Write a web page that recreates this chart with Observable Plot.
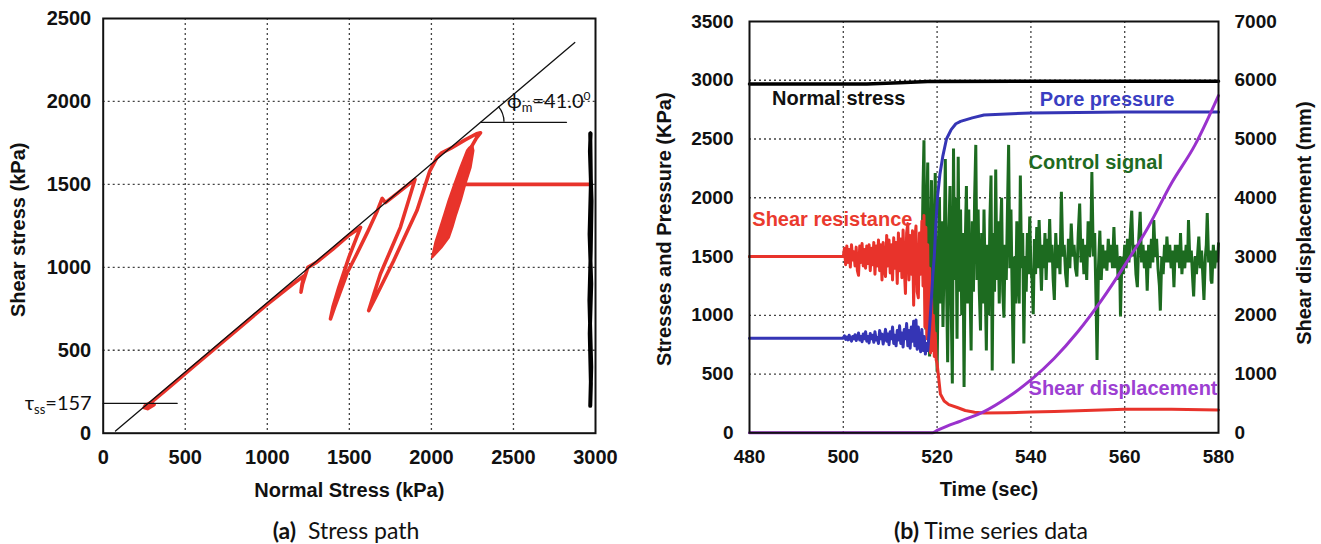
<!DOCTYPE html>
<html><head><meta charset="utf-8">
<script src="https://cdn.jsdelivr.net/npm/d3@7"></script>
<script src="https://cdn.jsdelivr.net/npm/@observablehq/plot@0.6"></script>
<style>
body{margin:0;background:#fff;}
#wrap{position:relative;width:1321px;height:544px;overflow:hidden;background:#fff;}
.panel{position:absolute;top:0;}
.cap{position:absolute;top:516px;font-family:Lato,"Open Sans",sans-serif;font-size:23px;line-height:28px;color:#111;white-space:nowrap;transform:translateX(-50%);}
</style></head><body><div id="wrap"></div>
<script>
// ---------------- Panel (a) data ----------------
const xTicksA = [0, 500, 1000, 1500, 2000, 2500, 3000];
const yTicksA = [0, 500, 1000, 1500, 2000, 2500];
const xGridA = [500, 1000, 1500, 2000, 2500];
const yGridA = [500, 1000, 1500, 2000];
// failure envelope (phi_m = 41.0)
const envelope = [[75, 13], [2874, 2355]];
const phiRef = [[2299, 1874], [2823, 1874]];
const tauSS = [[0, 180], [451, 180]];
// effective stress path (normal stress, shear stress)
const stressPath = [
  [2960,1500],[2180,1500],[2220,1650],[2248,1734],[2275,1780],[2299,1811],
  [2275,1805],[2200,1765],[2120,1718],[2060,1688],[2034,1663],
  [1990,1580],[1912,1342],[1770,1040],[1660,820],[1618,739],
  [1650,840],[1689,960],[1750,1100],[1811,1241],[1860,1400],[1900,1530],
  [1800,1452],[1720,1390],[1700,1415],
  [1670,1340],[1609,1209],[1540,1070],[1487,967],[1410,760],[1385,689],
  [1400,760],[1436,879],[1497,1060],[1568,1241],
  [1500,1195],[1400,1110],[1300,1030],[1247,1000],
  [1215,900],[1205,850],[1212,900],[1225,950],
  [1150,895],[1000,777],[850,652],[700,526],[550,401],[450,317],[380,258],[320,208],[280,175],
  [250,155],[270,148],[310,172],[290,185],[255,165]
];
// dense cyclic cluster of the effective stress path (outline)
const stressCluster = [
  [2005,1061],[2060,1120],[2105,1180],[2127,1242],[2150,1320],[2178,1403],[2205,1500],[2238,1603],[2255,1704],[2248,1734],
  [2230,1720],[2218,1704],[2178,1603],[2140,1500],[2106,1403],[2080,1320],[2055,1242],[2025,1150],[2005,1061]
];
// total stress path (normal stress nearly constant)
const totalPath = [
  [2968,1807],[2972,1500],[2964,1200],[2974,900],[2965,600],[2972,300],[2968,165],
  [2974,400],[2963,800],[2971,1100],[2976,1400],[2966,1700],[2970,1807]
];

// ---------------- Panel (b) data ----------------
const xTicksB = [480, 500, 520, 540, 560, 580];
const xGridB = [500, 520, 540, 560];
const yTicksB = [0, 500, 1000, 1500, 2000, 2500, 3000, 3500];
const yGridB = [500, 1000, 1500, 2000, 2500, 3000];
const dispTicks = [0, 1000, 2000, 3000, 4000, 5000, 6000, 7000];
const normalStress = [[480,2968],[505,2968],[512,2978],[518,2990],[580,2992]];
const shearResistance = [
  [480,1500],[500,1500],[500.25,1570],[500.5,1430],[500.75,1590],[501,1450],[501.25,1560],[501.5,1410],[501.75,1600],
  [502,1470],[502.25,1540],[502.5,1420],[502.75,1580],[503,1380],[503.25,1340],[503.5,1590],[503.75,1450],[504,1610],
  [504.25,1420],[504.5,1560],[504.75,1400],[505,1590],[505.25,1440],[505.5,1600],[505.75,1380],[506,1570],[506.25,1430],
  [506.5,1620],[506.75,1350],[507,1590],[507.25,1420],[507.5,1640],[507.75,1380],[508,1600],[508.25,1300],[508.5,1620],
  [508.75,1400],[509,1330],[509.25,1680],[509.5,1420],[509.75,1640],[510,1360],[510.25,1600],[510.5,1300],[510.75,1660],
  [511,1400],[511.25,1620],[511.5,1270],[511.75,1700],[512,1380],[512.25,1650],[512.5,1320],[512.75,1725],[513,1400],
  [513.25,1185],[513.5,1700],[513.75,1780],[514,1300],[514.25,1680],[514.5,1350],[514.75,1720],[515,1085],[515.25,1650],
  [515.5,1760],[515.75,1200],[516,1150],[516.25,1700],[516.5,1350],[516.75,1800],[517,1250],[517.2,1850],[517.4,900],
  [517.6,1750],[517.8,800],[518,1600],[518.2,750],[518.4,1400],[518.6,680],[518.8,1200],[519,700],[519.2,1000],[519.4,650],
  [519.6,850],[519.8,620],[520,590],[520.7,330],[521.5,270],[522.5,240],[524.3,215],[526,190],[528,175],[530,168],
  [535,170],[540,176],[545,182],[550,188],[555,195],[560,200],[570,200],[580,195]
];
const porePressure = [
  [480,805],[500,805],[500.25,825],[500.5,795],[500.75,815],[501,790],[501.25,830],[501.5,800],[501.75,780],[502,820],
  [502.25,800],[502.5,835],[502.75,785],[503,815],[503.25,850],[503.5,790],[503.75,820],[504,775],[504.25,840],[504.5,800],
  [504.75,860],[505,780],[505.25,820],[505.5,765],[505.75,845],[506,800],[506.25,830],[506.5,770],[506.75,860],[507,790],
  [507.25,810],[507.5,760],[507.75,870],[508,800],[508.25,840],[508.5,755],[508.75,820],[509,880],[509.25,780],[509.5,840],
  [509.75,750],[510,860],[510.25,800],[510.5,900],[510.75,760],[511,830],[511.25,740],[511.5,870],[511.75,790],[512,910],
  [512.25,760],[512.5,850],[512.75,730],[513,880],[513.25,800],[513.5,930],[513.75,740],[514,870],[514.25,720],[514.5,900],
  [514.75,780],[515,950],[515.25,740],[515.5,960],[515.75,710],[516,900],[516.25,760],[516.5,690],[516.75,880],[517,700],
  [517.25,820],[517.5,670],[517.75,760],[518,700],[518.4,900],[518.8,1150],[519.1,1350],[519.4,1500],[519.7,1750],
  [520.1,2010],[520.6,2200],[521.2,2350],[522,2500],[523,2580],[524,2630],[525,2650],[527.5,2680],[530,2705],[540,2722],
  [560,2730],[580,2730]
];
const controlSignal = [
  [480,1500],[500,1500],[502,1520],[504,1480],[506,1530],[508,1470],[510,1540],[512,1460],[514,1560],[516,1450],
  [516.8,1500],[517.0,2100],[517.2,2490],[517.4,1300],[517.6,880],[517.8,1900],[518.0,2300],[518.2,1200],[518.4,650],
  [518.6,1600],[518.8,2150],[519.0,1400],[519.2,800],[519.4,1700],[519.6,2210],[519.8,1200],[520.0,520],
  [520.25,1400],[520.5,2000],[520.75,1100],[521.0,1800],[521.25,900],[521.5,1500],[521.75,2330],[522.0,1300],[522.25,600],
  [522.5,1700],[522.75,2100],[523.0,1100],[523.25,420],[523.5,2420],[523.75,1300],[524.0,2000],[524.25,800],[524.5,2350],
  [524.75,1200],[525.0,1900],[525.25,1000],[525.5,1700],[525.75,390],[526.0,1600],[526.25,2100],[526.5,1100],[526.75,1900],
  [527.0,1300],[527.25,700],[527.5,1800],[527.75,1200],[528.0,2000],[528.25,2450],[528.5,1300],[528.75,1900],[529.0,1200],
  [529.25,870],[529.5,1700],[529.75,1100],[530.0,1900],[530.25,1300],[530.5,700],[530.75,1600],[531.0,1000],[531.25,1800],
  [531.5,2190],[531.75,530],[532.0,1700],[532.25,1200],[532.5,2240],[532.75,1300],[533.0,1800],[533.25,1100],[533.5,1700],
  [533.75,2000],[534.0,1200],[534.25,980],[534.5,1600],[534.75,1300],[535.0,1900],[535.25,2450],[535.5,1400],[535.75,1900],
  [536.0,1200],[536.25,590],[536.5,1500],[536.75,1100],[537.0,1800],[537.25,1300],[537.5,1100],[537.75,2190],[538.0,1400],
  [538.25,1700],[538.5,760],[538.75,1500],[539.0,1200],[539.25,1700],[539.5,1350],[539.75,1840],[540.0,1400],[540.25,1300],
  [540.5,1010],[540.75,1650],[541.0,1350],[541.25,1750],[541.5,1400],[541.75,1810],[542.0,1500],[542.25,1210],[542.5,1600],
  [542.75,1400],[543.0,1700],[543.25,1300],[543.5,1650],[543.75,1450],[544.0,1820],[544.25,1450],[544.5,1600],[544.75,1300],
  [545.0,1130],[545.3,1700],[545.6,1400],[545.9,1600],[546.2,1350],[546.5,2050],[546.8,1500],[547.1,1600],[547.4,1350],
  [547.7,1240],[548.0,1650],[548.3,1400],[548.6,1780],[548.9,1500],[549.2,1600],[549.5,1400],[549.8,1330],[550.1,1700],
  [550.4,1950],[550.7,1450],[551.0,1650],[551.3,1350],[551.6,1600],[551.9,1300],[552.2,1800],[552.5,1500],[552.8,1700],
  [553.0,2220],[553.3,1500],[553.6,1700],[553.9,1100],[554.1,620],[554.4,1400],[554.7,1720],[555.0,1300],[555.3,1600],
  [555.6,1400],[555.9,1550],[556.2,1380],[556.5,1650],[556.8,1450],[557.1,1600],[557.4,1400],[557.7,1750],[558.0,1400],
  [558.3,1600],[558.6,1300],[558.9,1500],[559.1,990],[559.4,1500],[559.7,1350],[560.0,1600],[560.3,1400],[560.6,1650],
  [560.9,1450],[561.2,1700],[561.5,1890],[561.8,1500],[562.1,1600],[562.4,1350],[562.7,1240],[563.0,1650],[563.3,1880],
  [563.6,1450],[563.9,1600],[564.2,1400],[564.5,1550],[564.8,1210],[565.1,1600],[565.4,1400],[565.7,1650],[566.0,1450],
  [566.2,1810],[566.5,1500],[566.8,1650],[567.1,1400],[567.4,1250],[567.6,1040],[567.9,1500],[568.2,1350],[568.5,1600],
  [568.8,1450],[569.0,1670],[569.3,1450],[569.6,1600],[569.9,1400],[570.2,1550],[570.5,1240],[570.8,1600],[571.1,1450],
  [571.4,1600],[571.7,1400],[571.9,1700],[572.2,1350],[572.5,1550],[572.8,1400],[573.1,1600],[573.4,1450],[573.6,1810],
  [573.9,1450],[574.2,1550],[574.5,1300],[574.7,1160],[575.0,1500],[575.3,1350],[575.6,1550],[575.8,1670],[576.1,1400],
  [576.4,1550],[576.7,1300],[576.9,1130],[577.2,1500],[577.4,1600],[577.6,1870],[577.9,1450],[578.2,1550],[578.4,1300],
  [578.6,1270],[578.9,1600],[579.2,1400],[579.5,1550],[579.8,1450],[580.0,1610]
];
const shearDisplacement = [
  [480,0],[519,0],[520,40],[522,110],[525,200],[530,360],[535,600],[540,900],[545,1270],[550,1720],
  [555,2250],[560,2850],[565,3500],[570,4250],[575,4900],[580,5740]
];
const seriesLabels = [
  {t: 484.8, v: 2847, label: "Normal stress", color: "#111111"},
  {t: 541.9, v: 2833, label: "Pore pressure", color: "#3a3ec2"},
  {t: 539.5, v: 2296, label: "Control signal", color: "#1f6a22"},
  {t: 480.6, v: 1816, label: "Shear resistance", color: "#ea3a2e"},
  {t: 539.5, v: 373,  label: "Shear displacement", color: "#9d3fd2"}
];

// ---------------- helpers ----------------
const P = a => a.map(([x, y]) => ({x, y}));
const dispFactor = 3500 / 7000;
const tickFont = "'Liberation Sans', Arial, sans-serif";
const gridStyle = {stroke: "#222", strokeOpacity: 0.85, strokeDasharray: "2,3", strokeWidth: 1.3};

// ---------------- Panel (a) ----------------
const plotA = Plot.plot({
  width: 620, height: 505,
  marginLeft: 102.7, marginRight: 25, marginTop: 18, marginBottom: 72.3,
  x: {domain: [0, 3000]},
  y: {domain: [0, 2500]},
  style: {fontFamily: tickFont, fontSize: "20px", fontWeight: "bold", color: "#111", background: "white", overflow: "visible"},
  marks: [
    Plot.gridX(xGridA, gridStyle),
    Plot.gridY(yGridA, gridStyle),
    Plot.line(P(stressCluster), {x: "x", y: "y", stroke: "#e8332b", fill: "#e8332b", strokeWidth: 2.5, strokeLinejoin: "round"}),
    Plot.line(P(stressPath), {x: "x", y: "y", stroke: "#e8332b", strokeWidth: 3.6, strokeLinejoin: "round", strokeLinecap: "round"}),
    Plot.line(P(envelope), {x: "x", y: "y", stroke: "#111", strokeWidth: 1.3}),
    Plot.line(P(phiRef), {x: "x", y: "y", stroke: "#111", strokeWidth: 1.3}),
    Plot.line(P(tauSS), {x: "x", y: "y", stroke: "#111", strokeWidth: 1.3}),
    Plot.line(P(totalPath), {x: "x", y: "y", stroke: "#000", strokeWidth: 4, strokeLinejoin: "round"}),
    Plot.frame({stroke: "#111", strokeWidth: 2}),
    Plot.axisX(xTicksA, {tickSize: 0, tickPadding: 17, label: null, tickFormat: d => String(d)}),
    Plot.axisY(yTicksA, {tickSize: 0, tickPadding: 12, label: null, tickFormat: d => String(d)}),
    Plot.text(["Normal Stress (kPa)"], {text: d => d, frameAnchor: "bottom", dy: 57, textAnchor: "middle", lineAnchor: "middle", fontSize: 20, fontWeight: "bold"}),
    Plot.text(["Shear stress (kPa)"], {text: d => d, frameAnchor: "left", dx: -84.7, dy: 4, rotate: -90, textAnchor: "middle", lineAnchor: "middle", fontSize: 20, fontWeight: "bold"})
  ]
});

// annotations with sub/superscripts, positioned through the plot's own scales
{
  const sx = plotA.scale("x"), sy = plotA.scale("y");
  const svg = d3.select(plotA);
  const g = svg.append("g").attr("font-family", "Lato, 'Open Sans', sans-serif").attr("font-weight", "normal").attr("fill", "#111");
  const t1 = g.append("text").attr("x", sx.apply(2464)).attr("y", sy.apply(2000)).attr("dy", "0.35em")
    .attr("font-size", 20).attr("text-anchor", "start");
  t1.append("tspan").text("ϕ");
  t1.append("tspan").attr("font-size", 13).attr("dy", 4).text("m");
  t1.append("tspan").attr("dy", -4).text("=41.0");
  t1.append("tspan").attr("font-size", 12).attr("dy", -8).text("0");
  const t2 = g.append("text").attr("x", sx.apply(0) - 11).attr("y", sy.apply(tauSS[0][1])).attr("dy", "0.35em")
    .attr("font-size", 20).attr("text-anchor", "end");
  t2.append("tspan").text("τ");
  t2.append("tspan").attr("font-size", 13).attr("dy", 4).text("ss");
  t2.append("tspan").attr("dy", -4).text("=157");
  const cx = sx.apply(phiRef[0][0]), cy = sy.apply(phiRef[0][1]);
  const ex = sx.apply(envelope[1][0]), ey = sy.apply(envelope[1][1]);
  const a = Math.atan2(cy - ey, ex - cx), r = 24;
  svg.append("path")
    .attr("d", `M${cx + r},${cy} A${r},${r} 0 0 0 ${cx + r * Math.cos(a)},${cy - r * Math.sin(a)}`)
    .attr("fill", "none").attr("stroke", "#111").attr("stroke-width", 1.3);
}

// ---------------- Panel (b) ----------------
const plotB = Plot.plot({
  width: 681, height: 505,
  marginLeft: 109, marginRight: 103, marginTop: 21, marginBottom: 72.7,
  x: {domain: [480, 580]},
  y: {domain: [0, 3500]},
  style: {fontFamily: tickFont, fontSize: "19px", fontWeight: "bold", color: "#111", background: "white", overflow: "visible"},
  marks: [
    Plot.gridX(xGridB, gridStyle),
    Plot.gridY(yGridB, gridStyle),
    Plot.line(P(controlSignal), {x: "x", y: "y", stroke: "#1d6b20", strokeWidth: 3, strokeLinejoin: "miter"}),
    Plot.line(P(shearResistance), {x: "x", y: "y", stroke: "#e8332b", strokeWidth: 3, strokeLinejoin: "round"}),
    Plot.line(P(porePressure), {x: "x", y: "y", stroke: "#3535b5", strokeWidth: 3, strokeLinejoin: "round"}),
    Plot.line(P(shearDisplacement), {x: "x", y: d => d.y * dispFactor, stroke: "#9a32cd", strokeWidth: 3, curve: "monotone-x"}),
    Plot.line(P(normalStress), {x: "x", y: "y", stroke: "#000", strokeWidth: 3.5}),
    Plot.frame({stroke: "#111", strokeWidth: 2}),
    Plot.axisX(xTicksB, {tickSize: 0, tickPadding: 17, label: null, tickFormat: d => String(d)}),
    Plot.axisY(yTicksB, {tickSize: 0, tickPadding: 16, label: null, tickFormat: d => String(d)}),
    Plot.axisY(dispTicks.map(d => d * dispFactor), {anchor: "right", tickSize: 0, tickPadding: 16, label: null, tickFormat: d => String(Math.round(d / dispFactor))}),
    ...seriesLabels.map(s => Plot.text([s], {x: "t", y: "v", text: "label", fill: s.color, textAnchor: "start", lineAnchor: "middle", fontSize: 20, fontWeight: "bold"})),
    Plot.text(["Time (sec)"], {text: d => d, frameAnchor: "bottom", dx: 5, dy: 57, textAnchor: "middle", lineAnchor: "middle", fontSize: 20, fontWeight: "bold"}),
    Plot.text(["Stresses and Pressure (KPa)"], {text: d => d, frameAnchor: "left", dx: -85, dy: 2, rotate: -90, textAnchor: "middle", lineAnchor: "middle", fontSize: 20, fontWeight: "bold"}),
    Plot.text(["Shear displacement (mm)"], {text: d => d, frameAnchor: "right", dx: 86, dy: -4, rotate: -90, textAnchor: "middle", lineAnchor: "middle", fontSize: 20, fontWeight: "bold"})
  ]
});

const wrap = document.getElementById("wrap");
plotA.classList.add("panel"); plotA.style.left = "0px";
plotB.classList.add("panel"); plotB.style.left = "640px";
wrap.appendChild(plotA);
wrap.appendChild(plotB);
const capA = document.createElement("div");
capA.className = "cap"; capA.style.left = "346px";
capA.innerHTML = "<b>(a)</b>&nbsp; Stress path";
const capB = document.createElement("div");
capB.className = "cap"; capB.style.left = "991px";
capB.innerHTML = "<b>(b)</b> Time series data";
wrap.appendChild(capA);
wrap.appendChild(capB);
</script></body></html>
